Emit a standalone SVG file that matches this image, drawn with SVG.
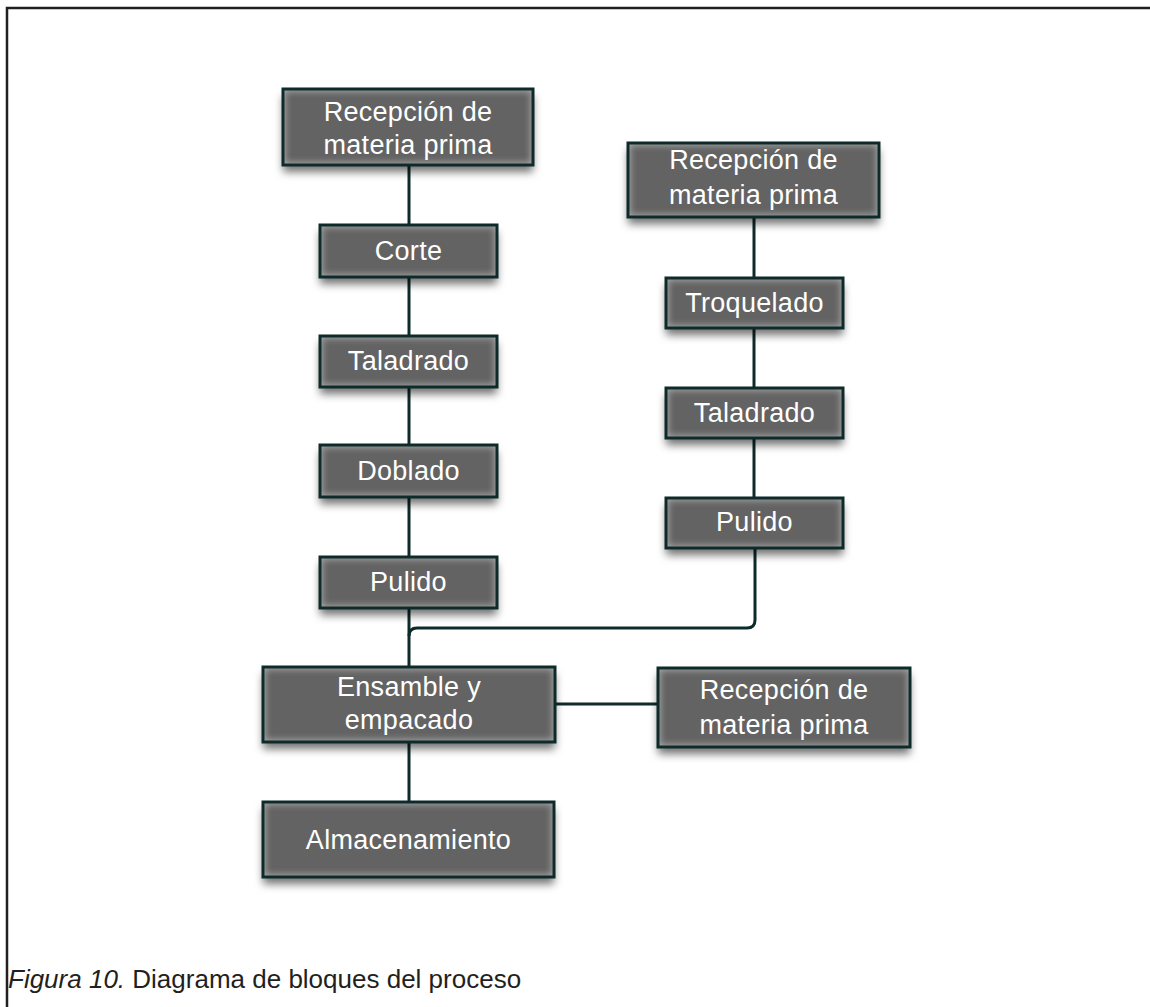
<svg xmlns="http://www.w3.org/2000/svg" width="1150" height="1007" viewBox="0 0 1150 1007">
  <style>
    .box { fill: #646464; filter: url(#boxfx); }
    .edge { fill: none; stroke: #0e2b2b; stroke-width: 3; }
    .lbl { fill: #ffffff; font-family: "Liberation Sans", Arial, sans-serif; font-size: 27px; letter-spacing: 0.3px; text-anchor: middle; }
    .wire { fill: none; stroke: #0e2b2b; stroke-width: 3; }
    .cap { fill: #231f20; font-family: "Liberation Sans", Arial, sans-serif; font-size: 26px; }
  </style>
  <defs>
    <!-- soft drop shadow under each block plus a pale inner glow along its edges -->
    <filter id="boxfx" x="-15%" y="-30%" width="130%" height="180%">
      <feGaussianBlur in="SourceAlpha" stdDeviation="4" result="sb"/>
      <feOffset in="sb" dx="0" dy="7" result="so"/>
      <feFlood flood-color="#000000" flood-opacity="0.55" result="sc"/>
      <feComposite in="sc" in2="so" operator="in" result="shadow"/>
      <feGaussianBlur in="SourceAlpha" stdDeviation="4" result="ib"/>
      <feFlood flood-color="#c8c8c8" flood-opacity="0.85" result="ic"/>
      <feComposite in="ic" in2="ib" operator="out" result="io"/>
      <feComposite in="io" in2="SourceAlpha" operator="in" result="glow"/>
      <feMerge>
        <feMergeNode in="shadow"/>
        <feMergeNode in="SourceGraphic"/>
        <feMergeNode in="glow"/>
      </feMerge>
    </filter>
  </defs>

  <rect width="1150" height="1007" fill="#ffffff"/>
  <!-- figure frame -->
  <path d="M7 1007 V8 H1150" fill="none" stroke="#231f20" stroke-width="2.5"/>

  <g id="connectors">
    <path class="wire" d="M409 165 V225"/>
    <path class="wire" d="M409 277 V336"/>
    <path class="wire" d="M409 387 V445"/>
    <path class="wire" d="M409 497 V557"/>
    <path class="wire" d="M409 608 V667"/>
    <path class="wire" d="M755 548 V620 Q755 628 747 628 H417 Q409 628 409 636"/>
    <path class="wire" d="M754 217 V278"/>
    <path class="wire" d="M754 328 V388"/>
    <path class="wire" d="M754 438 V498"/>
    <path class="wire" d="M555 704 H658"/>
    <path class="wire" d="M409 742 V802"/>
  </g>

  <g id="recepcion-1">
    <rect class="box" x="283" y="89" width="250" height="76"/>
    <rect class="edge" x="283" y="89" width="250" height="76"/>
    <text class="lbl" x="408" y="121">Recepción de</text>
    <text class="lbl" x="408" y="154">materia prima</text>
  </g>
  <g id="corte">
    <rect class="box" x="320" y="225" width="177" height="52"/>
    <rect class="edge" x="320" y="225" width="177" height="52"/>
    <text class="lbl" x="408.5" y="260">Corte</text>
  </g>
  <g id="taladrado-1">
    <rect class="box" x="320" y="336" width="177" height="51"/>
    <rect class="edge" x="320" y="336" width="177" height="51"/>
    <text class="lbl" x="408.5" y="370">Taladrado</text>
  </g>
  <g id="doblado">
    <rect class="box" x="320" y="445" width="177" height="52"/>
    <rect class="edge" x="320" y="445" width="177" height="52"/>
    <text class="lbl" x="408.5" y="480">Doblado</text>
  </g>
  <g id="pulido-1">
    <rect class="box" x="320" y="557" width="177" height="51"/>
    <rect class="edge" x="320" y="557" width="177" height="51"/>
    <text class="lbl" x="408.5" y="591">Pulido</text>
  </g>
  <g id="recepcion-2">
    <rect class="box" x="628" y="143" width="251" height="74"/>
    <rect class="edge" x="628" y="143" width="251" height="74"/>
    <text class="lbl" x="753.5" y="169">Recepción de</text>
    <text class="lbl" x="753.5" y="204">materia prima</text>
  </g>
  <g id="troquelado">
    <rect class="box" x="666" y="278" width="177" height="50"/>
    <rect class="edge" x="666" y="278" width="177" height="50"/>
    <text class="lbl" x="754.5" y="312">Troquelado</text>
  </g>
  <g id="taladrado-2">
    <rect class="box" x="666" y="388" width="177" height="50"/>
    <rect class="edge" x="666" y="388" width="177" height="50"/>
    <text class="lbl" x="754.5" y="422">Taladrado</text>
  </g>
  <g id="pulido-2">
    <rect class="box" x="666" y="498" width="177" height="50"/>
    <rect class="edge" x="666" y="498" width="177" height="50"/>
    <text class="lbl" x="754.5" y="531">Pulido</text>
  </g>
  <g id="ensamble">
    <rect class="box" x="263" y="667" width="292" height="75"/>
    <rect class="edge" x="263" y="667" width="292" height="75"/>
    <text class="lbl" x="409" y="696">Ensamble y</text>
    <text class="lbl" x="409" y="729">empacado</text>
  </g>
  <g id="recepcion-3">
    <rect class="box" x="658" y="668" width="252" height="79"/>
    <rect class="edge" x="658" y="668" width="252" height="79"/>
    <text class="lbl" x="784" y="699">Recepción de</text>
    <text class="lbl" x="784" y="734">materia prima</text>
  </g>
  <g id="almacenamiento">
    <rect class="box" x="263" y="802" width="291" height="75"/>
    <rect class="edge" x="263" y="802" width="291" height="75"/>
    <text class="lbl" x="408.5" y="849">Almacenamiento</text>
  </g>

  <text class="cap" x="8" y="988"><tspan font-style="italic">Figura 10.</tspan> Diagrama de bloques del proceso</text>
</svg>
